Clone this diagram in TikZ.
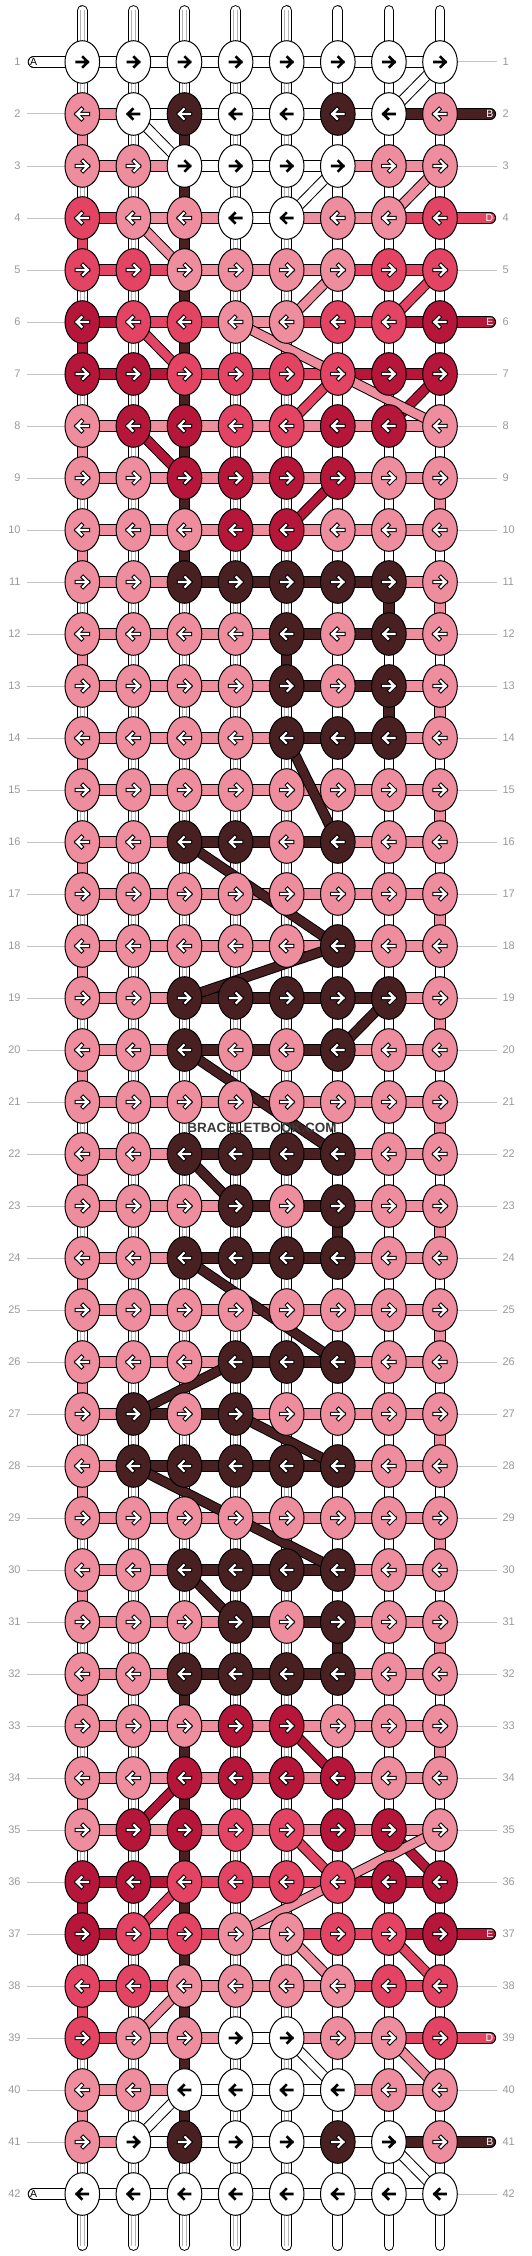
\documentclass[tikz,border=0pt]{standalone}
\usepackage{fontspec}
\setmainfont{Liberation Sans}
\usetikzlibrary{shapes.geometric}
\definecolor{kW}{HTML}{FFFFFF}
\definecolor{kP}{HTML}{EE8D9E}
\definecolor{kR}{HTML}{E34463}
\definecolor{kC}{HTML}{B6163A}
\definecolor{kD}{HTML}{482022}
\definecolor{numgrey}{HTML}{9A9A9A}
\definecolor{linegrey}{HTML}{C4C4C4}
\definecolor{wmgrey}{HTML}{3A3A3A}
\pgfdeclarelayer{under}
\pgfsetlayers{under,main}
\tikzset{
 knot/.style={ellipse, draw=black, line width=1pt, minimum width=34.6pt, minimum height=42.6pt, inner sep=0pt, outer sep=0pt},
 hbar/.style={draw=black, line width=1pt, double=#1, double distance=9.6pt},
 vseg/.style={draw=black, line width=1pt, double=#1, double distance=9.3pt},
 tube/.style={draw=black, line width=1pt, double=white, double distance=8.7pt},
 tubecore/.style={draw=black!30, line width=0.6pt, double=white, double distance=3.4pt},
 strand/.style={draw=black, line width=1pt, double=#1, double distance=8.5pt},
 glinestyle/.style={draw=linegrey, line width=1pt},
 rownum/.style={text=numgrey, font=\fontsize{11}{13}\selectfont, inner sep=0pt},
 endlabel/.style={font=\fontsize{10.5}{12}\selectfont, inner sep=0pt},
 arrowpen/.style={line width=#1, line cap=rect, line join=miter},
}
\def\KN{%
{W,W,W,W,W,W,W,W},%1
{P,W,D,W,W,D,W,P},%2
{P,P,W,W,W,W,P,P},%3
{R,P,P,W,W,P,P,R},%4
{R,R,P,P,P,P,R,R},%5
{C,R,R,P,P,R,R,C},%6
{C,C,R,R,R,R,C,C},%7
{P,C,C,R,R,C,C,P},%8
{P,P,C,C,C,C,P,P},%9
{P,P,P,C,C,P,P,P},%10
{P,P,D,D,D,D,D,P},%11
{P,P,P,P,D,P,D,P},%12
{P,P,P,P,D,P,D,P},%13
{P,P,P,P,D,D,D,P},%14
{P,P,P,P,P,P,P,P},%15
{P,P,D,D,P,D,P,P},%16
{P,P,P,P,P,P,P,P},%17
{P,P,P,P,P,D,P,P},%18
{P,P,D,D,D,D,D,P},%19
{P,P,D,P,P,D,P,P},%20
{P,P,P,P,P,P,P,P},%21
{P,P,D,D,D,D,P,P},%22
{P,P,P,D,P,D,P,P},%23
{P,P,D,D,D,D,P,P},%24
{P,P,P,P,P,P,P,P},%25
{P,P,P,D,D,D,P,P},%26
{P,D,P,D,P,P,P,P},%27
{P,D,D,D,D,D,P,P},%28
{P,P,P,P,P,P,P,P},%29
{P,P,D,D,D,D,P,P},%30
{P,P,P,D,P,D,P,P},%31
{P,P,D,D,D,D,P,P},%32
{P,P,P,C,C,P,P,P},%33
{P,P,C,C,C,C,P,P},%34
{P,C,C,R,R,C,C,P},%35
{C,C,R,R,R,R,C,C},%36
{C,R,R,P,P,R,R,C},%37
{R,R,P,P,P,P,R,R},%38
{R,P,P,W,W,P,P,R},%39
{P,P,W,W,W,W,P,P},%40
{P,W,D,W,W,D,W,P},%41
{W,W,W,W,W,W,W,W}}
\def\BR{%
{W,W,W,W,W,W,W},%1
{P,W,W,W,W,W,D},%2
{P,P,W,W,W,P,P},%3
{R,P,P,W,P,P,R},%4
{R,R,P,P,P,R,R},%5
{C,R,R,P,R,R,C},%6
{C,C,R,R,R,C,C},%7
{P,P,P,P,P,P,P},%8
{P,P,P,P,P,P,P},%9
{P,P,P,P,P,P,P},%10
{P,P,D,D,D,D,P},%11
{P,P,P,P,D,D,P},%12
{P,P,P,P,D,D,P},%13
{P,P,P,P,D,D,P},%14
{P,P,P,P,P,P,P},%15
{P,P,D,D,D,P,P},%16
{P,P,P,P,P,P,P},%17
{P,P,P,P,P,P,P},%18
{P,P,D,D,D,D,P},%19
{P,P,D,D,D,P,P},%20
{P,P,P,P,P,P,P},%21
{P,P,D,D,D,P,P},%22
{P,P,P,D,D,P,P},%23
{P,P,D,D,D,P,P},%24
{P,P,P,P,P,P,P},%25
{P,P,P,D,D,P,P},%26
{P,D,D,P,P,P,P},%27
{P,D,D,D,D,P,P},%28
{P,P,P,P,P,P,P},%29
{P,P,D,D,D,P,P},%30
{P,P,P,D,D,P,P},%31
{P,P,D,D,D,P,P},%32
{P,P,P,P,P,P,P},%33
{P,P,P,P,P,P,P},%34
{P,P,P,P,P,P,P},%35
{C,C,R,R,R,C,C},%36
{C,R,R,P,R,R,C},%37
{R,R,P,P,P,R,R},%38
{R,P,P,W,P,P,R},%39
{P,P,W,W,W,P,P},%40
{P,W,W,W,W,W,D},%41
{W,W,W,W,W,W,W}}
\def\WW{W}
\begin{document}
\begin{tikzpicture}[x=1pt,y=-1pt]
\useasboundingbox (0,0) rectangle (532,2256);
% knots with arrows
\foreach \row [count=\r] in \KN {
  \pgfmathsetmacro\yy{62+(\r-1)*52}
  \pgfmathsetmacro\dd{isodd(\r)*2-1}
  \foreach \kc [count=\c] in \row {
    \pgfmathsetmacro\xx{82.3+(\c-1)*51.1}
    \node[knot, fill=k\kc] (k-\r-\c) at (\xx,\yy) {};
    \edef\tmpk{\kc}
    \ifx\tmpk\WW
      \draw[arrowpen=2.6pt, black] ({\xx-5.6*\dd},\yy) -- ({\xx+5.6*\dd},\yy) ({\xx+0.8*\dd},\yy-4.8) -- ({\xx+5.6*\dd},\yy) -- ({\xx+0.8*\dd},\yy+4.8);
    \else
      \draw[arrowpen=4.2pt, black] ({\xx-5.6*\dd},\yy) -- ({\xx+5.6*\dd},\yy) ({\xx+0.8*\dd},\yy-4.8) -- ({\xx+5.6*\dd},\yy) -- ({\xx+0.8*\dd},\yy+4.8);
      \draw[arrowpen=2.2pt, white] ({\xx-5.6*\dd},\yy) -- ({\xx+5.6*\dd},\yy) ({\xx+0.8*\dd},\yy-4.8) -- ({\xx+5.6*\dd},\yy) -- ({\xx+0.8*\dd},\yy+4.8);
    \fi
  }
  \node[rownum, anchor=east] (ln-\r) at (20.8,\yy) {\r};
  \node[rownum, anchor=west] (rn-\r) at (502.3,\yy) {\r};
}
% end labels
\foreach \r/\lab in {2/B,4/D,6/E,37/E,39/D,41/B} {
  \pgfmathsetmacro\yy{62+(\r-1)*52}
  \node[endlabel, text=white, anchor=east] (lab-\r) at (493.5,\yy) {\lab};
}
\foreach \r in {1,42} {
  \pgfmathsetmacro\yy{62+(\r-1)*52}
  \node[endlabel, text=black, anchor=west] (laba-\r) at (30,\yy) {A};
}
\node[font=\bfseries\fontsize{13.5}{16}\selectfont, text=wmgrey, inner sep=0pt] (wm) at (262,1127.5) {BRACELETBOOK.COM};

\begin{pgfonlayer}{under}
\fill[white] (0,0) rectangle (532,2256);
% grey label lines
\foreach \r in {2,...,41} {
  \pgfmathsetmacro\yy{62+(\r-1)*52}
  \draw[glinestyle] (27,\yy) -- (k-\r-1.center);
}
\foreach \r in {1,3,5,7,8,...,36,38,40,42} {
  \pgfmathsetmacro\yy{62+(\r-1)*52}
  \draw[glinestyle] (k-\r-8.center) -- (496.5,\yy);
}
% vertical strings
\foreach \c in {1,...,8} {
  \pgfmathsetmacro\xx{82.3+(\c-1)*51.1}
  \coordinate (top-\c) at (\xx,10.5);
  \coordinate (bot-\c) at (\xx,2245.5);
  \draw[tube, line cap=round] (top-\c) -- (bot-\c);
  \draw[tubecore] (top-\c) -- (bot-\c);
}
% coloured vertical segments
\foreach \g/\c/\vc in {2/1/P,2/3/D,3/3/D,4/1/R,4/3/D,5/3/D,6/1/C,6/3/D,7/3/D,8/1/P,8/3/D,9/3/D,9/8/P,10/1/P,10/3/D,11/7/D,11/8/P,12/1/P,12/5/D,13/7/D,13/8/P,14/1/P,15/8/P,16/1/P,17/8/P,18/1/P,19/8/P,20/1/P,21/8/P,22/1/P,23/6/D,23/8/P,24/1/P,25/8/P,26/1/P,27/8/P,28/1/P,29/8/P,30/1/P,31/6/D,31/8/P,32/1/P,32/3/D,33/3/D,33/8/P,34/1/P,34/3/D,35/3/D,36/1/C,36/3/D,37/3/D,38/1/R,38/3/D,39/3/D,40/1/P,40/3/D} {
  \pgfmathtruncatemacro\gn{\g+1}
  \draw[vseg=k\vc] (k-\g-\c.center) -- (k-\gn-\c.center);
}
% horizontal bars
\foreach \row [count=\r] in \BR {
  \foreach \bc [count=\c] in \row {
    \pgfmathtruncatemacro\cn{\c+1}
    \draw[hbar=k\bc] (k-\r-\c.center) -- (k-\r-\cn.center);
  }
}
% end tubes
\foreach \r/\ec in {2/D,4/R,6/C,37/C,39/R,41/D} {
  \pgfmathsetmacro\yy{62+(\r-1)*52}
  \coordinate (end-\r) at (490.3,\yy);
  \draw[hbar=k\ec, line cap=round] (k-\r-8.center) -- (end-\r);
}
\foreach \r in {1,42} {
  \pgfmathsetmacro\yy{62+(\r-1)*52}
  \coordinate (start-\r) at (33.5,\yy);
  \draw[hbar=kW, line cap=round] (start-\r) -- (k-\r-1.center);
}
% diagonal strands
\foreach \ra/\ca/\rb/\cb/\sc in {1/8/2/7/W,2/2/3/3/W,3/6/4/5/W,3/8/4/7/P,4/2/5/3/P,5/6/6/5/P,5/8/6/7/R,6/2/7/3/R,6/4/7/6/P,7/6/8/5/R,7/8/8/7/C,7/6/8/8/P,8/2/9/3/C,9/6/10/5/C,14/5/16/6/D,16/3/18/6/D,18/6/19/3/D,19/7/20/6/D,20/3/22/6/D,22/3/23/4/D,24/3/26/6/D,26/4/27/2/D,27/4/28/6/D,28/2/30/6/D,30/3/31/4/D,33/5/34/6/C,34/3/35/2/C,35/5/36/6/R,35/7/36/8/C,35/8/36/6/P,36/6/37/4/P,36/3/37/2/R,37/5/38/6/P,37/7/38/8/R,38/3/39/2/P,39/5/40/6/W,39/7/40/8/P,40/3/41/2/W,41/7/42/8/W} {
  \draw[strand=k\sc] (k-\ra-\ca.center) -- (k-\rb-\cb.center);
}
\end{pgfonlayer}
\end{tikzpicture}
\end{document}
